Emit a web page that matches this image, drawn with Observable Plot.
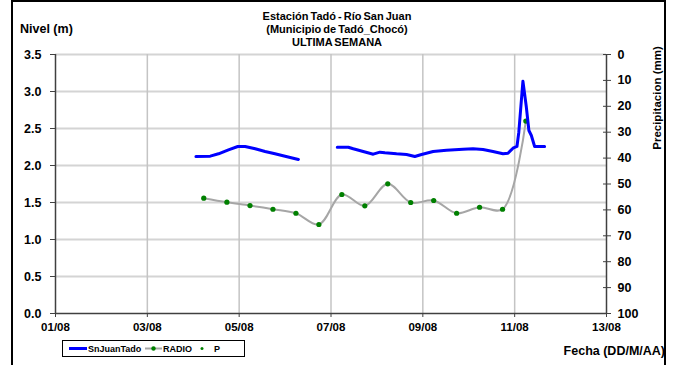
<!DOCTYPE html>
<html><head><meta charset="utf-8">
<script src="https://cdn.jsdelivr.net/npm/d3@7"></script>
<script src="https://cdn.jsdelivr.net/npm/@observablehq/plot@0.6"></script>
<style>
body{margin:0;background:#fff;font-family:"Liberation Sans",Arial,sans-serif;}
#wrap{position:relative;width:676px;height:365px;overflow:hidden;background:#fff;}
#frame{position:absolute;left:11px;top:0px;width:655px;height:400px;border:2px solid #000;box-sizing:border-box;}
.t{position:absolute;font-weight:bold;font-size:11px;color:#000;white-space:nowrap;line-height:13px;}
#chart{position:absolute;left:0;top:0;}
#legend{position:absolute;left:62px;top:340px;width:183px;height:17px;border:1px solid #000;box-sizing:border-box;background:#fff;}
</style></head><body><div id="wrap"><div id="frame"></div><div id="chart"></div></div>
<script>
// ---- data ----
const YEAR = "2021";
const sjTimes = [
  "08-04T01:25","08-04T08:53","08-04T13:12","08-04T18:24","08-04T23:17","08-05T03:07","08-05T08:24","08-05T13:34","08-05T18:43","08-06T00:00","08-06T06:58",
  "08-06T18:00",
  "08-07T03:17","08-07T09:01","08-07T11:38","08-07T16:50","08-07T22:05","08-08T01:34","08-08T04:10","08-08T10:16","08-08T15:30","08-08T19:49","08-08T23:20",
  "08-09T05:23","08-09T12:22","08-09T21:02","08-10T02:14","08-10T07:28","08-10T12:40","08-10T17:54","08-10T20:30","08-10T23:07","08-11T01:12","08-11T02:10",
  "08-11T04:19","08-11T06:06","08-11T07:26","08-11T08:43","08-11T10:26","08-11T15:39"
];
const sjLevels = [
  2.12,2.126,2.158,2.212,2.257,2.257,2.226,2.19,2.158,2.126,2.081,
  null,
  2.247,2.247,2.226,2.189,2.153,2.18,2.172,2.158,2.149,2.122,2.149,
  2.189,2.207,2.22,2.226,2.216,2.189,2.158,2.166,2.234,2.257,2.45,
  3.14,2.79,2.473,2.405,2.257,2.257
];
const radioTimes = [
  "08-04T05:30","08-04T17:35","08-05T05:40","08-05T17:40","08-06T05:40","08-06T17:40","08-07T05:40","08-07T17:40",
  "08-08T05:40","08-08T17:40","08-09T05:40","08-09T17:40","08-10T05:40","08-10T17:40","08-11T05:50"
];
const radioLevels = [1.558,1.504,1.459,1.409,1.355,1.203,1.608,1.455,1.753,1.5,1.527,1.355,1.436,1.409,2.6];
const pTimes = [];
const pValues = [];
const xTickLabels = ["01/08","03/08","05/08","07/08","09/08","11/08","13/08"];
const levelTicks = [0,0.5,1,1.5,2,2.5,3,3.5];
const precipTicks = [0,10,20,30,40,50,60,70,80,90,100];
const titleLines = ["Estación Tadó - Río San Juan","(Municipio de Tadó_Chocó)","ULTIMA SEMANA"];
const seriesNames = ["SnJuanTado","RADIO","P"];

// ---- build ----
const parseT = s => new Date(`${YEAR}-${s}:00Z`);
const xTicks = xTickLabels.map(l => { const [d,m] = l.split("/"); return new Date(Date.UTC(+YEAR, +m - 1, +d)); });
const LMAX = 3.5, PMAX = 100;
const pToY = p => LMAX - p * LMAX / PMAX;
const yToP = y => Math.round((LMAX - y) * PMAX / LMAX);

const sjData = sjTimes.map((t,i) => ({t: parseT(t), v: sjLevels[i] == null ? NaN : sjLevels[i]}));
const radioData = radioTimes.map((t,i) => ({t: parseT(t), v: radioLevels[i]}));
const pData = pTimes.map((t,i) => ({t: parseT(t), v: pToY(pValues[i])}));
const fmt = d3.utcFormat("%d/%m");

const chart = Plot.plot({
  width: 676, height: 365,
  marginLeft: 55, marginRight: 70, marginTop: 54, marginBottom: 52,
  style: {fontFamily: "'Liberation Sans', Arial, sans-serif", fontSize: "11px", fontWeight: "bold", color: "#000", background: "transparent", overflow: "visible"},
  x: {type: "utc", domain: [xTicks[0], xTicks[xTicks.length - 1]]},
  y: {domain: [0, LMAX]},
  marks: [
    Plot.gridY(levelTicks.slice(1), {stroke: "#d4d4d4", strokeOpacity: 1, strokeWidth: 2}),
    Plot.gridX(xTicks.slice(1, -1), {stroke: "#c4c4c4", strokeOpacity: 1, strokeWidth: 1.5}),
    Plot.axisY(levelTicks, {anchor: "left", tickFormat: d => d.toFixed(1), tickSize: 5, tickPadding: 9, label: null, stroke: "#404040", fontSize: 12.5}),
    Plot.axisX(xTicks, {anchor: "bottom", tickFormat: fmt, tickSize: 4, tickPadding: 5, label: null, stroke: "#404040", fontSize: 11.5}),
    Plot.axisY(precipTicks.map(pToY), {anchor: "right", tickFormat: yToP, tickSize: 4, tickPadding: 7, label: null, stroke: "#404040", fontSize: 12.5}),
    Plot.axisY(precipTicks.map(pToY), {anchor: "right", tickFormat: null, text: null, tickSize: -4, label: null, stroke: "#404040"}),
    Plot.ruleX([xTicks[0]], {stroke: "#404040", strokeWidth: 1.5}),
    Plot.ruleX([xTicks[xTicks.length - 1]], {stroke: "#404040", strokeWidth: 1.5}),
    Plot.ruleY([0], {stroke: "#404040", strokeWidth: 1.5}),
    Plot.line(radioData, {x: "t", y: "v", stroke: "#a6a6a6", strokeWidth: 2, curve: "catmull-rom"}),
    Plot.dot(radioData, {x: "t", y: "v", fill: "#008000", r: 2.6}),
    Plot.dot(pData, {x: "t", y: "v", fill: "#008000", r: 2}),
    Plot.line(sjData, {x: "t", y: "v", stroke: "#0000ff", strokeWidth: 3})
  ]
});
document.getElementById("chart").appendChild(chart);

const wrap = document.getElementById("wrap");
function addText(txt, css) {
  const d = document.createElement("div");
  d.className = "t"; d.textContent = txt;
  Object.assign(d.style, css);
  wrap.appendChild(d);
  return d;
}
titleLines.forEach((l, i) => addText(l, {left: "337px", top: (10 + i * 13) + "px", transform: "translateX(-50%)", wordSpacing: "-1px"}));
addText("Nivel (m)", {left: "20px", top: "23px", fontSize: "12.5px"});
addText("Fecha (DD/M/AA)", {right: "11px", top: "345px", fontSize: "12.5px"});
addText("Precipitacion (mm)", {left: "657px", top: "98px", fontSize: "11.5px", transform: "translate(-50%,-50%) rotate(-90deg)"});

// legend
const leg = document.createElement("div");
leg.id = "legend";
leg.innerHTML = `<svg width="183" height="15" style="position:absolute;left:0;top:0">
  <line x1="6" x2="24" y1="7.5" y2="7.5" stroke="#0000ff" stroke-width="3"/>
  <text x="25" y="11" font-size="9" font-weight="bold" font-family="Liberation Sans, Arial">${seriesNames[0]}</text>
  <line x1="82" x2="99" y1="7.5" y2="7.5" stroke="#a6a6a6" stroke-width="2"/>
  <circle cx="90.5" cy="7.5" r="2.2" fill="#008000"/>
  <text x="100" y="11" font-size="9" font-weight="bold" font-family="Liberation Sans, Arial">${seriesNames[1]}</text>
  <circle cx="139" cy="7.5" r="1.5" fill="#008000"/>
  <text x="151" y="11" font-size="9" font-weight="bold" font-family="Liberation Sans, Arial">${seriesNames[2]}</text>
</svg>`;
wrap.appendChild(leg);
</script>
</body></html>
